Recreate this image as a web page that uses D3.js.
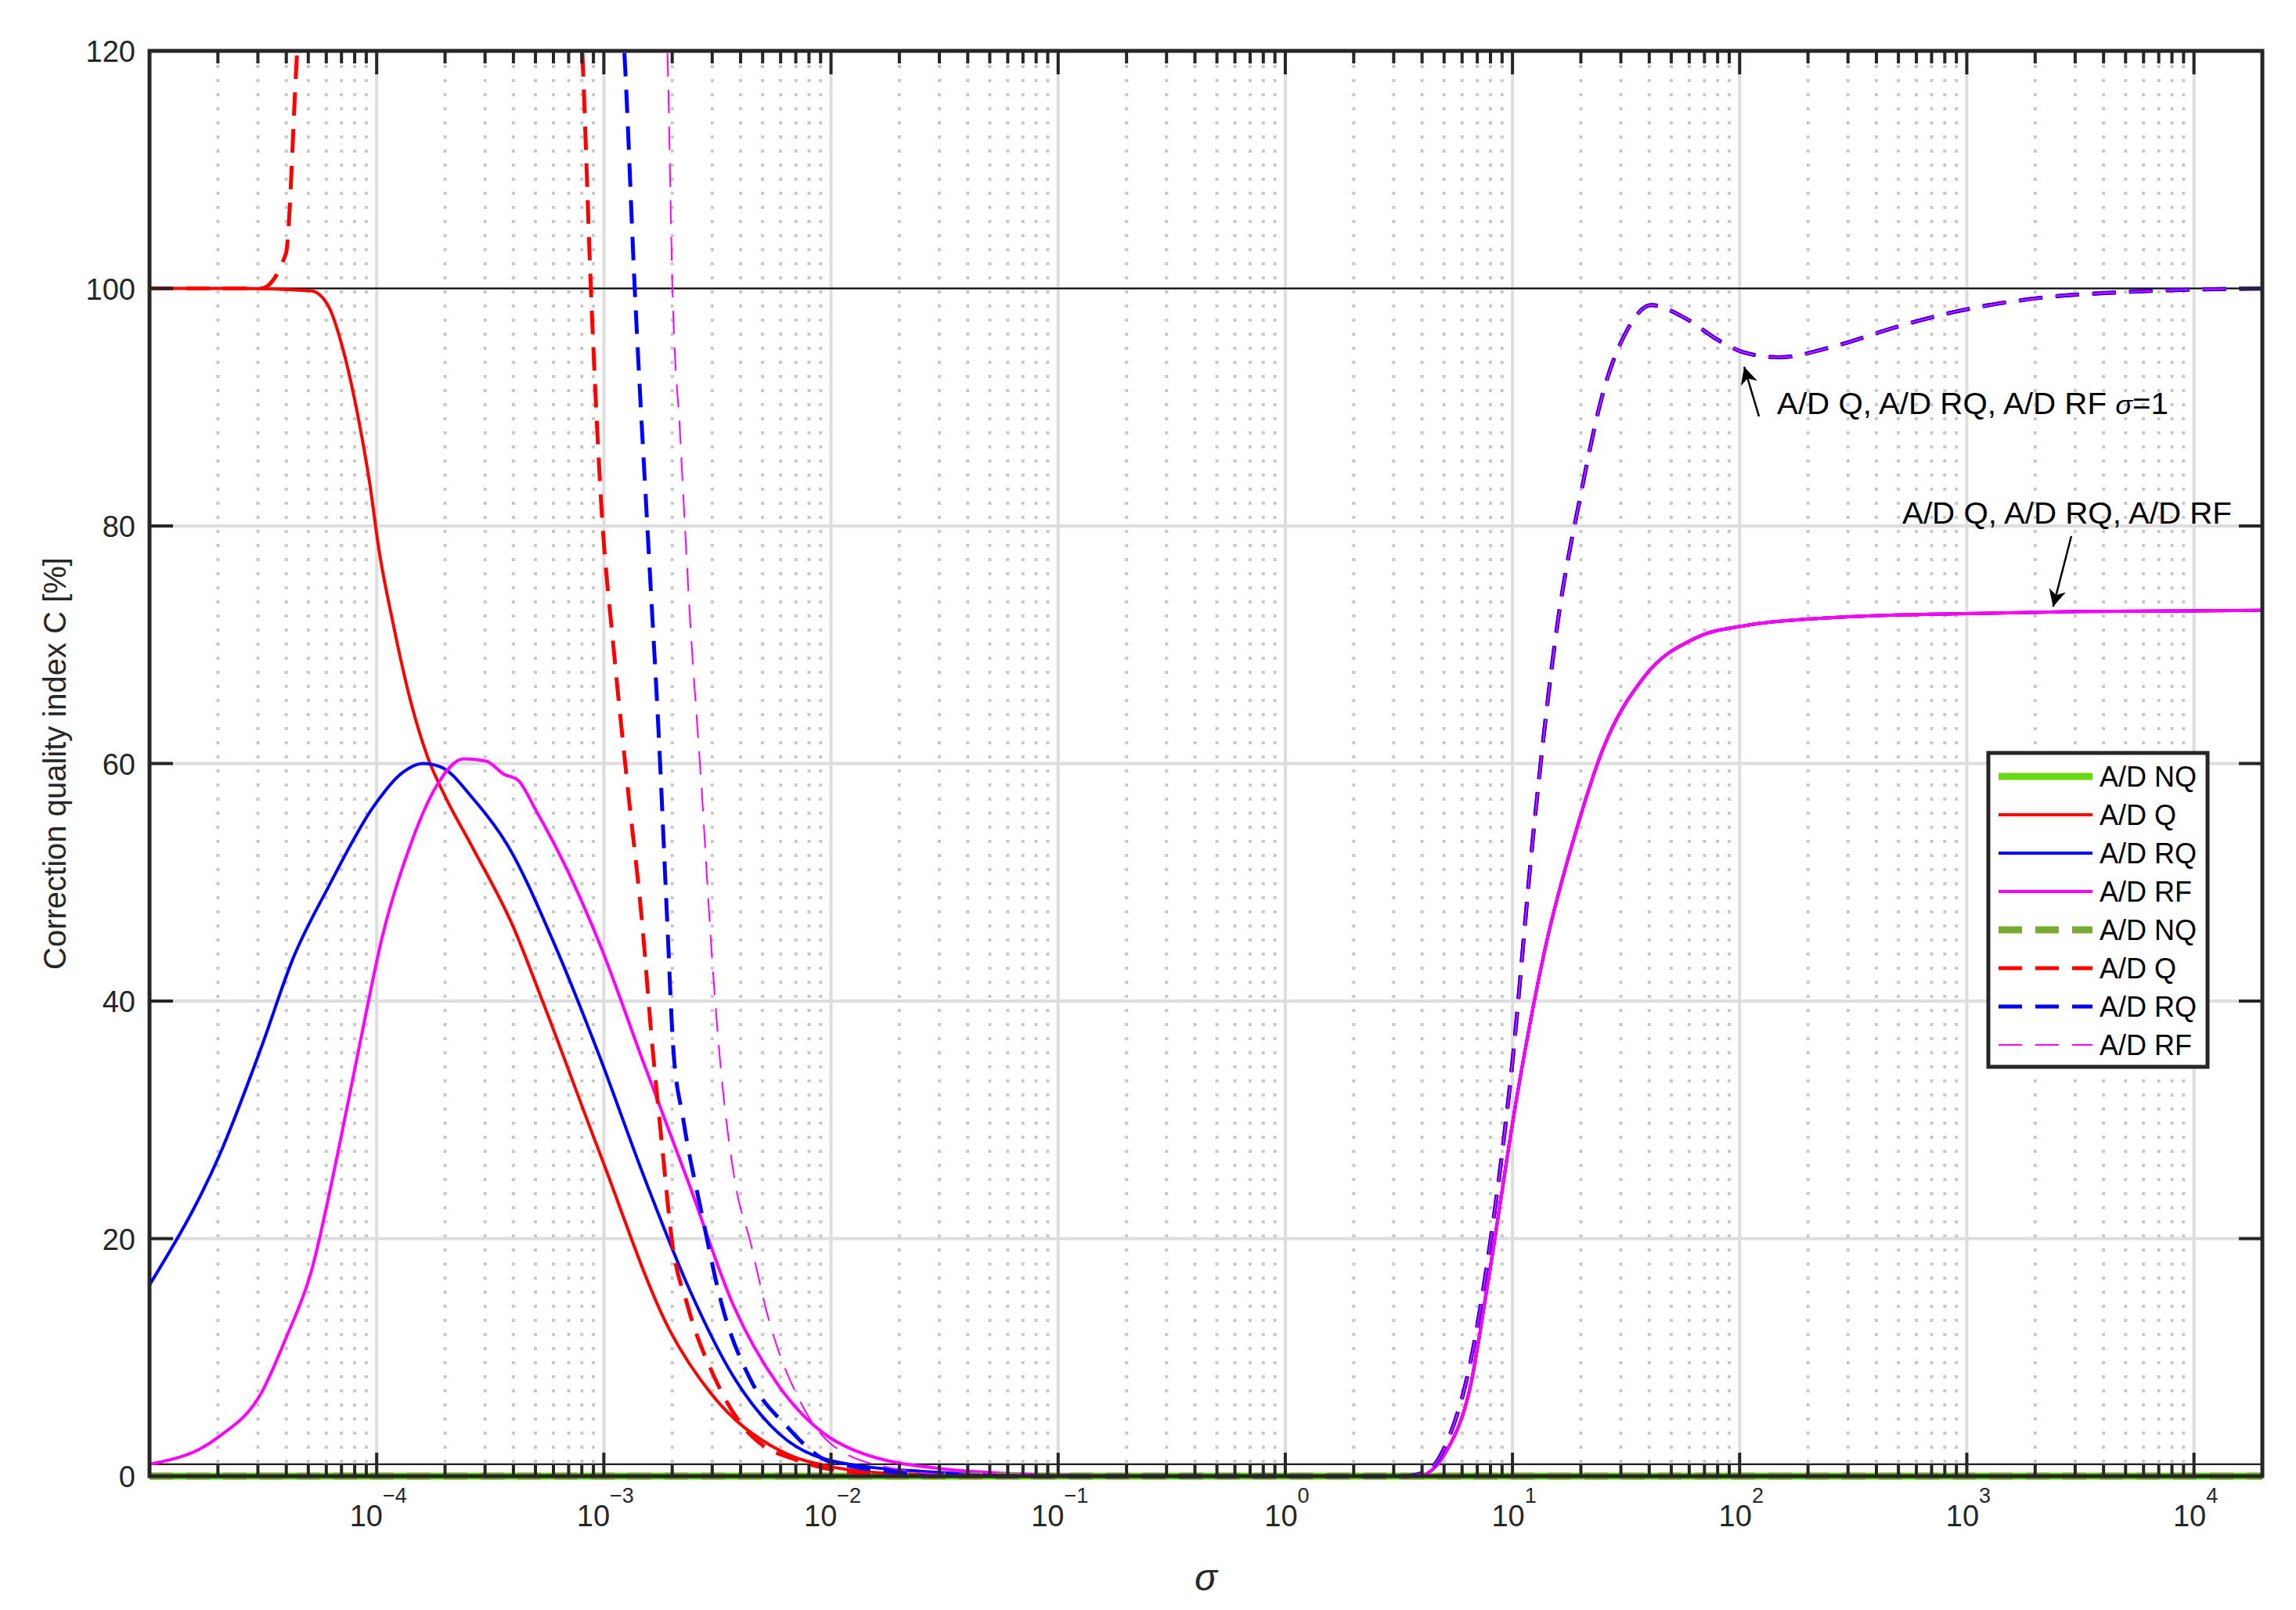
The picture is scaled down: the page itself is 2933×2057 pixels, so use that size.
<!DOCTYPE html>
<html>
<head>
<meta charset="utf-8">
<script src="https://cdn.jsdelivr.net/npm/d3@7"></script>
<style>
  body { margin: 0; background: #fff; }
  text { font-family: "Liberation Sans", Arial, sans-serif; fill: #262626; }
</style>
</head>
<body>
<svg id="chart" width="2933" height="2057"></svg>
<script>
// Data: [log10(sigma), C %]
var ndSolid = [[-5, 0], [4.35, 0]];
var ndDashed = [[-5, 0], [4.35, 0]];

var qSolid = [[-5, 100], [-4.6, 100], [-4.29, 99.8], [-4.215, 98.6], [-4.15, 95], [-4.08, 89], [-4.03, 83.5],
	[-3.99, 78], [-3.93, 72], [-3.85, 65.2], [-3.775, 60.5], [-3.695, 57.1], [-3.58, 53], [-3.4, 46.3],
	[-3.26, 39.5], [-3.02, 27.3], [-2.705, 12.1], [-2.53, 7], [-2.23, 2.2], [-2, 0.8], [-1.7, 0.2], [-1.2, 0],
	[0.4, 0], [0.584, 0], [0.712, 2.2], [0.815, 7.6], [0.891, 16.2], [1.02, 32], [1.147, 44.7], [1.275, 54],
	[1.4, 61.3], [1.58, 67.3], [1.81, 70.6], [2.02, 71.6], [2.43, 72.3], [2.94, 72.6], [3.5, 72.8], [4.35, 72.9]];

var rqSolid = [[-5, 16.1], [-4.686, 27.3], [-4.508, 36.1], [-4.368, 43.6], [-4.21, 49.7], [-4.013, 56.4],
	[-3.895, 59.1], [-3.795, 60], [-3.716, 59.7], [-3.578, 57.1], [-3.42, 53], [-3.22, 44.9], [-3.02, 35.4],
	[-2.825, 25.3], [-2.625, 15.8], [-2.43, 8.4], [-2.23, 3.6], [-2, 1.3], [-1.6, 0.4], [-1, 0],
	[0.4, 0], [0.584, 0], [0.712, 2.2], [0.815, 7.6], [0.891, 16.2], [1.02, 32], [1.147, 44.7], [1.275, 54],
	[1.4, 61.3], [1.58, 67.3], [1.81, 70.6], [2.02, 71.6], [2.43, 72.3], [2.94, 72.6], [3.5, 72.8], [4.35, 72.9]];

var rfSolid = [[-5, 1], [-4.696, 3.3], [-4.508, 7], [-4.4, 11.6], [-4.29, 17.1], [-4.17, 27.3], [-4.07, 36.8],
	[-3.973, 45.6], [-3.854, 53], [-3.737, 58.1], [-3.616, 60.4], [-3.518, 60.2], [-3.44, 59.1], [-3.378, 58.6],
	[-3.3, 56.1], [-3.16, 51], [-3.02, 44.9], [-2.825, 34.8], [-2.625, 24.6], [-2.43, 14.4], [-2.23, 7.6],
	[-2.032, 3.6], [-1.9, 2.2], [-1.5, 0.6], [-1, 0.1], [-0.5, 0],
	[0.4, 0], [0.584, 0], [0.712, 2.2], [0.815, 7.6], [0.891, 16.2], [1.02, 32], [1.147, 44.7], [1.275, 54],
	[1.4, 61.3], [1.58, 67.3], [1.81, 70.6], [2.02, 71.6], [2.43, 72.3], [2.94, 72.6], [3.5, 72.8], [4.35, 72.9]];

// dashed rise on the right (sigma = 1), common to Q, RQ, RF
var riseDashed = [[0.4, 0], [0.53, 0], [0.636, 0.6], [0.712, 2.9], [0.815, 9.6], [0.891, 18.2], [0.995, 34],
	[1.095, 54.7], [1.2, 72], [1.3, 82.6], [1.4, 91.3], [1.505, 96.5], [1.61, 98.6], [1.76, 97.5], [1.91, 95.6],
	[2.02, 94.6], [2.17, 94.2], [2.43, 95.2], [2.68, 96.7], [2.94, 98], [3.32, 99.2], [3.7, 99.7], [4.35, 100]];

var qDashed = [[-5, 100], [-4.51, 100], [-4.4, 102.9], [-4.35, 120], [-4.33, 126], null,
	[-3.11, 126], [-3.095, 120], [-3.057, 100], [-3.01, 81.4], [-2.957, 69.7], [-2.895, 58], [-2.83, 46.3],
	[-2.79, 37], [-2.743, 27.7], [-2.7, 19.8], [-2.632, 14.4], [-2.51, 8.2], [-2.356, 3.5], [-2.125, 1.2],
	[-1.89, 0.3], [-1.5, 0], [0.4, 0]].concat(riseDashed.slice(1));

var rqDashed = [[-2.93, 126], [-2.91, 120], [-2.864, 100], [-2.8, 77], [-2.757, 61.9], [-2.72, 46.3],
	[-2.695, 36.2], [-2.65, 30], [-2.57, 22.2], [-2.48, 14.4], [-2.356, 8.2], [-2.2, 4.3], [-2, 1.2],
	[-1.59, 0.2], [-1.2, 0], [0.4, 0]].concat(riseDashed.slice(1));

var rfDashed = [[-2.73, 126], [-2.72, 120], [-2.698, 100], [-2.664, 87.6], [-2.62, 72], [-2.57, 58],
	[-2.525, 44], [-2.494, 36.2], [-2.42, 24.5], [-2.356, 19.8], [-2.28, 13.6], [-2.125, 5.9], [-2, 2.7],
	[-1.74, 0.7], [-1.45, 0.1], [-1, 0], [0.4, 0]].concat(riseDashed.slice(1));

var yTicks = [0, 20, 40, 60, 80, 100, 120];
var xDecades = [-4, -3, -2, -1, 0, 1, 2, 3, 4];
var legendLabels = ["A/D NQ", "A/D Q", "A/D RQ", "A/D RF", "A/D NQ", "A/D Q", "A/D RQ", "A/D RF"];

// Layout
var margin = { left: 191, right: 2890, top: 65, bottom: 1886 };
var svg = d3.select('#chart');
var x = d3.scaleLog().domain([1e-5, 2e4]).range([margin.left, margin.right]);
var y = d3.scaleLinear().domain([0, 120]).range([margin.bottom, margin.top]);

// Series styles
var series = [
	{ data: ndSolid, color: '#66d814', width: 9, dash: null },
	{ data: qSolid, color: '#ff0000', width: 4, dash: null },
	{ data: rqSolid, color: '#0000ff', width: 4, dash: null },
	{ data: rfSolid, color: '#ff00ff', width: 4, dash: null },
	{ data: ndDashed, color: '#77ac30', width: 9, dash: '30,17' },
	{ data: qDashed, color: '#ff0000', width: 5, dash: '30,17' },
	{ data: rqDashed, color: '#0000ff', width: 5, dash: '30,17' },
	{ data: rfDashed, color: '#ff00ff', width: 2, dash: '30,17' }
];

svg.append('defs').append('clipPath').attr('id', 'clip').append('rect')
	.attr('x', margin.left).attr('y', margin.top)
	.attr('width', margin.right - margin.left).attr('height', margin.bottom - margin.top + 10);

var grid = svg.append('g');

// Minor x grid (dotted)
var minorTicks = [];
for (var d = -5; d <= 4; d++)
	for (var m = 2; m <= 9; m++) {
		var v = m * Math.pow(10, d);
		if (v <= 2e4) minorTicks.push(v);
	}
grid.selectAll('.minor').data(minorTicks).enter().append('line')
	.attr('x1', x).attr('x2', x).attr('y1', margin.top).attr('y2', margin.bottom)
	.attr('stroke', '#c8c8c8').attr('stroke-width', 4).attr('stroke-dasharray', '4,14');

grid.selectAll('.xmaj').data(xDecades).enter().append('line')
	.attr('x1', function(k) { return x(Math.pow(10, k)); })
	.attr('x2', function(k) { return x(Math.pow(10, k)); })
	.attr('y1', margin.top).attr('y2', margin.bottom)
	.attr('stroke', '#dddddd').attr('stroke-width', 4);

grid.selectAll('.ymaj').data(yTicks).enter().append('line')
	.attr('x1', margin.left).attr('x2', margin.right)
	.attr('y1', y).attr('y2', y)
	.attr('stroke', '#dddddd').attr('stroke-width', 4);

// Reference lines at 100 and 1
grid.selectAll('.ref').data([100, 1]).enter().append('line')
	.attr('x1', margin.left).attr('x2', margin.right)
	.attr('y1', y).attr('y2', y)
	.attr('stroke', '#000').attr('stroke-width', 2);

// Curves
var line = d3.line()
	.defined(function(p) { return p !== null; })
	.curve(d3.curveMonotoneX)
	.x(function(p) { return x(Math.pow(10, p[0])); })
	.y(function(p) { return y(p[1]); });

var plot = svg.append('g').attr('clip-path', 'url(#clip)');
series.forEach(function(s) {
	plot.append('path').attr('d', line(s.data))
		.attr('fill', 'none').attr('stroke', s.color).attr('stroke-width', s.width)
		.attr('stroke-dasharray', s.dash).attr('stroke-linejoin', 'round');
});

// Frame and inward ticks
var axes = svg.append('g').attr('stroke', '#262626');
axes.append('rect').attr('x', margin.left).attr('y', margin.top)
	.attr('width', margin.right - margin.left).attr('height', margin.bottom - margin.top)
	.attr('fill', 'none').attr('stroke-width', 5);
minorTicks.forEach(function(v) {
	axes.append('line').attr('x1', x(v)).attr('x2', x(v)).attr('y1', margin.top).attr('y2', margin.top + 16).attr('stroke-width', 4);
	axes.append('line').attr('x1', x(v)).attr('x2', x(v)).attr('y1', margin.bottom).attr('y2', margin.bottom - 16).attr('stroke-width', 4);
});
xDecades.forEach(function(k) {
	var px = x(Math.pow(10, k));
	axes.append('line').attr('x1', px).attr('x2', px).attr('y1', margin.top).attr('y2', margin.top + 30).attr('stroke-width', 4);
	axes.append('line').attr('x1', px).attr('x2', px).attr('y1', margin.bottom).attr('y2', margin.bottom - 30).attr('stroke-width', 4);
});
yTicks.forEach(function(t) {
	axes.append('line').attr('x1', margin.left).attr('x2', margin.left + 30).attr('y1', y(t)).attr('y2', y(t)).attr('stroke-width', 4);
	axes.append('line').attr('x1', margin.right).attr('x2', margin.right - 30).attr('y1', y(t)).attr('y2', y(t)).attr('stroke-width', 4);
});

// Tick labels
svg.selectAll('.ylab').data(yTicks).enter().append('text')
	.attr('x', 173).attr('y', function(t) { return y(t) + 14; })
	.attr('text-anchor', 'end').attr('font-size', 38).text(function(t) { return t; });

xDecades.forEach(function(k) {
	var t = svg.append('text').attr('x', x(Math.pow(10, k)) + 2).attr('y', 1950)
		.attr('text-anchor', 'middle').attr('font-size', 38);
	t.append('tspan').text('10');
	t.append('tspan').attr('dy', -30).attr('font-size', 27).text(k < 0 ? '\u2212' + (-k) : k);
});

// Axis titles
svg.append('text').attr('transform', 'translate(84,' + ((margin.top + margin.bottom) / 2) + ') rotate(-90)')
	.attr('text-anchor', 'middle').attr('font-size', 40).text('Correction quality index C [%]');
svg.append('text').attr('x', (margin.left + margin.right) / 2).attr('y', 2032)
	.attr('text-anchor', 'middle').attr('font-size', 48).attr('font-style', 'italic')
	.attr('font-family', 'DejaVu Serif, serif').text('\u03c3');

// Legend
var lg = svg.append('g');
lg.append('rect').attr('x', 2540).attr('y', 962).attr('width', 280).attr('height', 401)
	.attr('fill', '#fff').attr('stroke', '#262626').attr('stroke-width', 5);
series.forEach(function(s, i) {
	var ly = 992 + i * 49;
	lg.append('line').attr('x1', 2553).attr('x2', 2673).attr('y1', ly).attr('y2', ly)
		.attr('stroke', s.color).attr('stroke-width', s.width).attr('stroke-dasharray', s.dash);
	lg.append('text').attr('x', 2682).attr('y', ly + 13).attr('font-size', 36)
		.style('fill', '#000').text(legendLabels[i]);
});

// Annotations
svg.append('defs').append('marker').attr('id', 'arrow').attr('viewBox', '0 0 10 10')
	.attr('refX', 10).attr('refY', 5).attr('markerWidth', 22).attr('markerHeight', 22)
	.attr('markerUnits', 'userSpaceOnUse').attr('orient', 'auto')
	.append('path').attr('d', 'M0,0 L10,5 L0,10 L3,5 Z').attr('fill', '#000');
var annotations = [
	{ tip: [2.02, 93.4], from: [2247, 532], text: 'A/D Q, A/D RQ, A/D RF ', sigma: true, tx: 2270, ty: 529, len: 500 },
	{ tip: [3.38, 73.2], from: [2646, 685], text: 'A/D Q, A/D RQ, A/D RF', sigma: false, tx: 2430, ty: 669, len: 421 }
];
annotations.forEach(function(a) {
	svg.append('line').attr('x1', a.from[0]).attr('y1', a.from[1])
		.attr('x2', x(Math.pow(10, a.tip[0]))).attr('y2', y(a.tip[1]))
		.attr('stroke', '#000').attr('stroke-width', 2.5).attr('marker-end', 'url(#arrow)');
	var t = svg.append('text').attr('x', a.tx).attr('y', a.ty).attr('font-size', 38)
		.attr('textLength', a.len).attr('lengthAdjust', 'spacingAndGlyphs').style('fill', '#000');
	t.append('tspan').text(a.text);
	if (a.sigma) {
		t.append('tspan').attr('font-style', 'italic').attr('font-size', 34).text('\u03c3');
		t.append('tspan').text('=1');
	}
});
</script>
</body>
</html>
